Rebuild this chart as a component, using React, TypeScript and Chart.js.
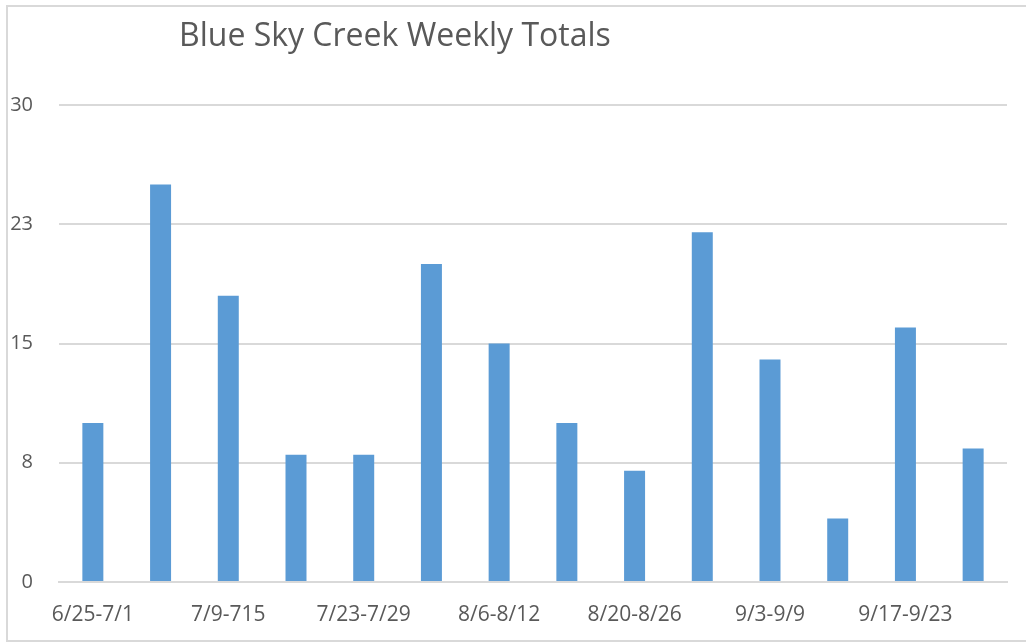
import React, { useEffect, useRef } from "react";
import { Chart, registerables } from "chart.js";

Chart.register(...registerables);

const titleText = "Blue Sky Creek Weekly Totals";
const categories = [
  "6/25-7/1", "7/2-7/8", "7/9-715", "7/16-7/22", "7/23-7/29", "7/30-8/5", "8/6-8/12",
  "8/13-8/19", "8/20-8/26", "8/27-9/2", "9/3-9/9", "9/10-9/16", "9/17-9/23", "9/24-9/30",
];
const weeklyTotals = [10, 25, 18, 8, 8, 20, 15, 10, 7, 22, 14, 4, 16, 8.4];
const yTicks = [0, 7.5, 15, 22.5, 30];

const FONT = "'Open Sans', 'Noto Sans', sans-serif";
const TEXT = "#595959";
const GRID = "#d9d9d9";

export default function App() {
  const ref = useRef<HTMLCanvasElement | null>(null);

  useEffect(() => {
    document.body.style.margin = "0";
    const canvas = ref.current;
    if (!canvas) return;

    const decor = {
      id: "decor",
      beforeDraw(chart: any) {
        const { ctx } = chart;
        ctx.save();
        ctx.fillStyle = "#ffffff";
        ctx.fillRect(0, 0, chart.width, chart.height);
        ctx.strokeStyle = GRID;
        ctx.lineWidth = 2;
        ctx.strokeRect(7, 6, chart.width + 20, chart.height - 7);
        ctx.restore();
      },
      afterDraw(chart: any) {
        const { ctx } = chart;
        ctx.save();
        ctx.fillStyle = TEXT;
        ctx.font = `32px ${FONT}`;
        ctx.textBaseline = "alphabetic";
        ctx.textAlign = "left";
        ctx.fillText(titleText, 179, 46);
        ctx.restore();
      },
    };

    const chart = new Chart(canvas, {
      type: "bar",
      data: {
        labels: categories,
        datasets: [
          {
            label: "Weekly Totals",
            data: weeklyTotals,
            backgroundColor: "#5b9bd5",
            barPercentage: 0.31,
            categoryPercentage: 1,
          },
        ],
      },
      options: {
        animation: false,
        responsive: true,
        maintainAspectRatio: false,
        layout: { padding: { top: 105, right: 19, bottom: 0, left: 0 } },
        plugins: {
          legend: { display: false },
          title: { display: false },
          tooltip: { enabled: false },
        },
        scales: {
          x: {
            grid: { display: false },
            border: { display: true, color: GRID, width: 2 },
            afterFit(scale: any) {
              scale.height = 60;
            },
            ticks: {
              autoSkip: false,
              maxRotation: 0,
              minRotation: 0,
              padding: 12,
              color: TEXT,
              font: { family: FONT, size: 21 },
              callback: (_v: any, i: number) => (i % 2 === 0 ? categories[i] : ""),
            },
          },
          y: {
            min: 0,
            max: 30,
            afterFit(scale: any) {
              scale.width = 59;
            },
            afterBuildTicks(scale: any) {
              scale.ticks = yTicks.map((v) => ({ value: v }));
            },
            grid: { color: GRID, lineWidth: 2, drawTicks: false },
            border: { display: false },
            ticks: {
              padding: 26,
              color: TEXT,
              font: { family: FONT, size: 20 },
              callback: (v: any) => String(Math.round(Number(v))),
            },
          },
        },
      },
      plugins: [decor],
    });

    return () => chart.destroy();
  }, []);

  return (
    <div style={{ width: 1026, height: 642, position: "relative" }}>
      <canvas ref={ref} />
    </div>
  );
}
